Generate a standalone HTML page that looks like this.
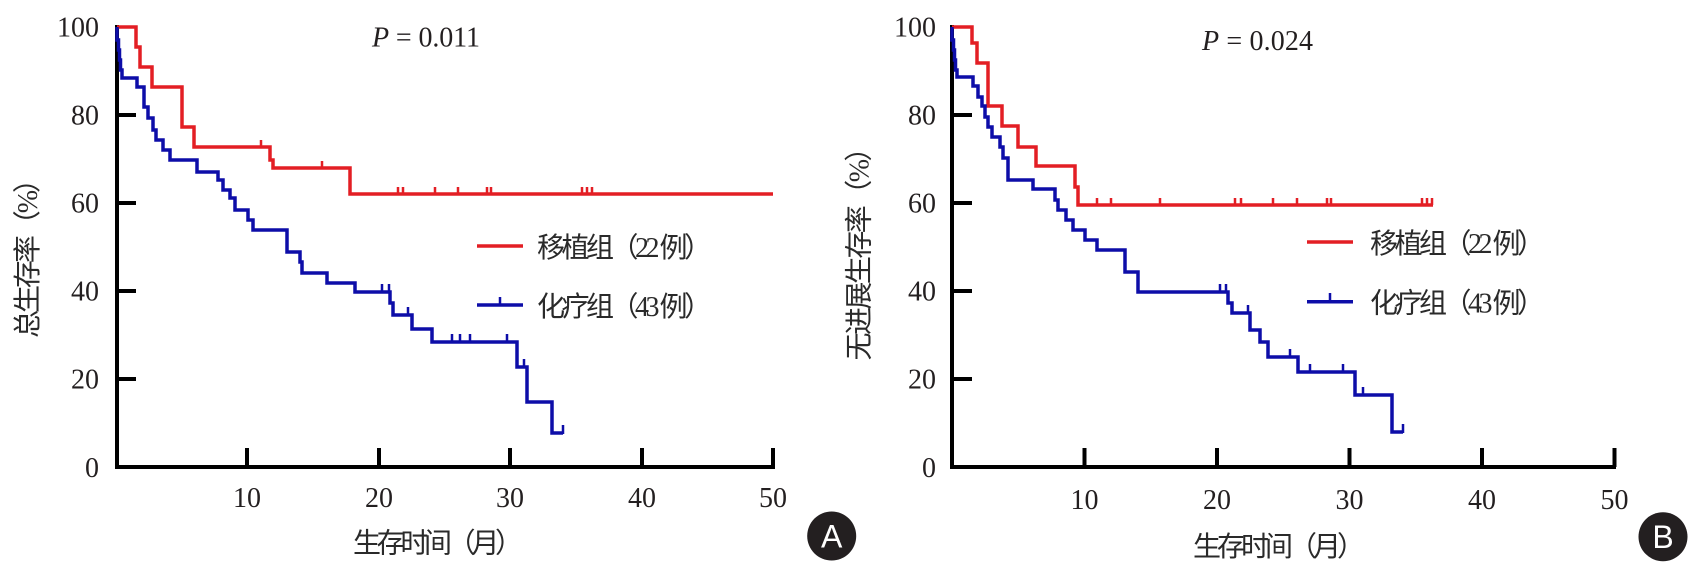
<!DOCTYPE html>
<html>
<head>
<meta charset="utf-8">
<style>
html,body{margin:0;padding:0;background:#fff;}
svg{display:block;}
.num{font-family:"Liberation Serif",serif;font-size:28px;fill:#231f20;}
.cjk{font-family:"Liberation Serif","Noto Sans CJK SC",serif;font-size:28px;fill:#2a2a2a;}
</style>
</head>
<body>
<svg width="1690" height="565" viewBox="0 0 1690 565" xmlns="http://www.w3.org/2000/svg">
<rect width="1690" height="565" fill="#fff"/>

<!-- ===== Panel A ===== -->
<g stroke="#000" stroke-width="4" fill="none" stroke-linecap="butt">
  <path d="M117,25 V469"/>
  <path d="M115,467 H775"/>
  <path d="M117,115 H136 M117,203 H136 M117,291 H136 M117,379 H136"/>
  <path d="M247,467 V448 M379,467 V448 M510,467 V448 M642,467 V448 M773,467 V448"/>
</g>
<g class="num" text-anchor="end">
  <text x="99" y="36.5">100</text>
  <text x="99" y="124.5">80</text>
  <text x="99" y="212.5">60</text>
  <text x="99" y="300.5">40</text>
  <text x="99" y="388.5">20</text>
  <text x="99" y="477">0</text>
</g>
<g class="num" text-anchor="middle">
  <text x="247" y="507">10</text>
  <text x="379" y="507">20</text>
  <text x="510" y="507">30</text>
  <text x="642" y="507">40</text>
  <text x="773" y="507">50</text>
</g>
<text class="num" x="372" y="46.5" textLength="108" lengthAdjust="spacing"><tspan font-style="italic">P</tspan> = 0.011</text>

<!-- red A -->
<path d="M117,27 H136 V47 H140 V67 H152 V87 H182 V127 H194 V147 H270 V160 H273 V168 H350 V194 H773" stroke="#e31e24" stroke-width="3.5" fill="none"/>
<path d="M261,147 V140 M322,168 V161 M398,194 V187 M403,194 V187 M435,194 V187 M458,194 V187 M487,194 V187 M491,194 V187 M582,194 V187 M587,194 V187 M592,194 V187" stroke="#e31e24" stroke-width="2.5" fill="none"/>
<!-- blue A -->
<path d="M117,27 V40 H118.5 V50 H119.5 V60 H120.5 V70 H122 V78 H137 V87 H144 V107 H148 V118 H153 V130 H156 V140 H163 V150 H170 V160 H197 V172 H218 V180 H223 V190 H230 V198 H235 V210 H248 V220 H253 V230 H287 V252 H300 V262 H302 V273 H327 V283 H355 V292 H390 V303 H393 V315 H412 V329 H432 V342 H517 V367 H527 V402 H552 V433 H563" stroke="#0d0da8" stroke-width="3.5" fill="none"/>
<path d="M382,292 V284 M389,292 V284 M408,315 V307 M452,342 V334 M460,342 V334 M470,342 V334 M507,342 V334 M524,367 V359 M563,434 V425" stroke="#0d0da8" stroke-width="2.5" fill="none"/>

<!-- legend A -->
<path d="M477,246 H523" stroke="#e31e24" stroke-width="3.5"/>
<text class="cjk" x="537" y="257" textLength="175" lengthAdjust="spacing">移植组（22 例）</text>
<path d="M477,305 H523" stroke="#0d0da8" stroke-width="3.5"/>
<path d="M500,305 V297" stroke="#0d0da8" stroke-width="2.5"/>
<text class="cjk" x="537" y="316" textLength="175" lengthAdjust="spacing">化疗组（43 例）</text>

<text class="cjk" transform="translate(28.5,251.5) rotate(-90)" x="0" y="0" text-anchor="middle" dominant-baseline="central" textLength="173" lengthAdjust="spacing">总生存率（%）</text>
<text class="cjk" x="353" y="552.5" textLength="170" lengthAdjust="spacing">生存时间（月）</text>

<circle cx="831.7" cy="536" r="24.5" fill="#231f20"/>
<text x="831.7" y="547.5" text-anchor="middle" font-family="Liberation Sans, sans-serif" font-size="32" fill="#fff">A</text>

<!-- ===== Panel B ===== -->
<g stroke="#000" stroke-width="4" fill="none">
  <path d="M952,25 V469"/>
  <path d="M950,467 H1616"/>
  <path d="M952,115 H972 M952,203 H972 M952,291 H972 M952,379 H972"/>
  <path d="M1084.5,467 V448 M1217,467 V448 M1349.5,467 V448 M1482,467 V448 M1614.5,467 V448"/>
</g>
<g class="num" text-anchor="end">
  <text x="936" y="36.5">100</text>
  <text x="936" y="124.5">80</text>
  <text x="936" y="212.5">60</text>
  <text x="936" y="300.5">40</text>
  <text x="936" y="388.5">20</text>
  <text x="936" y="477">0</text>
</g>
<g class="num" text-anchor="middle">
  <text x="1084.5" y="509">10</text>
  <text x="1217" y="509">20</text>
  <text x="1349.5" y="509">30</text>
  <text x="1482" y="509">40</text>
  <text x="1614.5" y="509">50</text>
</g>
<text class="num" x="1202" y="50" textLength="111" lengthAdjust="spacing"><tspan font-style="italic">P</tspan> = 0.024</text>

<!-- red B -->
<path d="M952,27 H972 V43 H977 V63 H988 V106 H1002 V126 H1018 V147 H1036 V166 H1075 V187 H1078 V205 H1433" stroke="#e31e24" stroke-width="3.5" fill="none"/>
<path d="M1097,205 V198 M1111,205 V198 M1160,205 V198 M1235,205 V198 M1241,205 V198 M1273,205 V198 M1297,205 V198 M1327,205 V198 M1331,205 V198 M1422,205 V198 M1427,205 V198 M1432,205 V198" stroke="#e31e24" stroke-width="2.5" fill="none"/>
<!-- blue B -->
<path d="M952,27 V40 H953.5 V50 H954.5 V60 H955.5 V70 H957 V77 H973 V86 H978 V97 H982 V106 H985 V117 H988 V127 H992 V137 H1000 V147 H1003 V158 H1008 V180 H1033 V189 H1055 V200 H1058 V210 H1066 V220 H1073 V230 H1085 V240 H1097 V250 H1125 V272 H1138 V292 H1228 V303 H1232 V313 H1250 V330 H1260 V342 H1268 V357 H1298 V372 H1355 V395 H1392 V432 H1403" stroke="#0d0da8" stroke-width="3.5" fill="none"/>
<path d="M1220,292 V284 M1226,292 V284 M1248,313 V305 M1290,357 V349 M1310,372 V364 M1343,372 V364 M1363,395 V387 M1403,433 V424" stroke="#0d0da8" stroke-width="2.5" fill="none"/>

<!-- legend B -->
<path d="M1307,242 H1353" stroke="#e31e24" stroke-width="3.5"/>
<text class="cjk" x="1370" y="253" textLength="175" lengthAdjust="spacing">移植组（22 例）</text>
<path d="M1307,301.7 H1353" stroke="#0d0da8" stroke-width="3.5"/>
<path d="M1330,301.7 V293" stroke="#0d0da8" stroke-width="2.5"/>
<text class="cjk" x="1370" y="312.5" textLength="175" lengthAdjust="spacing">化疗组（43 例）</text>

<text class="cjk" transform="translate(860,247) rotate(-90)" x="0" y="0" text-anchor="middle" dominant-baseline="central" textLength="227" lengthAdjust="spacing">无进展生存率（%）</text>
<text class="cjk" x="1193" y="556" textLength="172" lengthAdjust="spacing">生存时间（月）</text>

<circle cx="1663" cy="536.7" r="24.5" fill="#231f20"/>
<text x="1663" y="548" text-anchor="middle" font-family="Liberation Sans, sans-serif" font-size="32" fill="#fff">B</text>
</svg>
</body>
</html>
